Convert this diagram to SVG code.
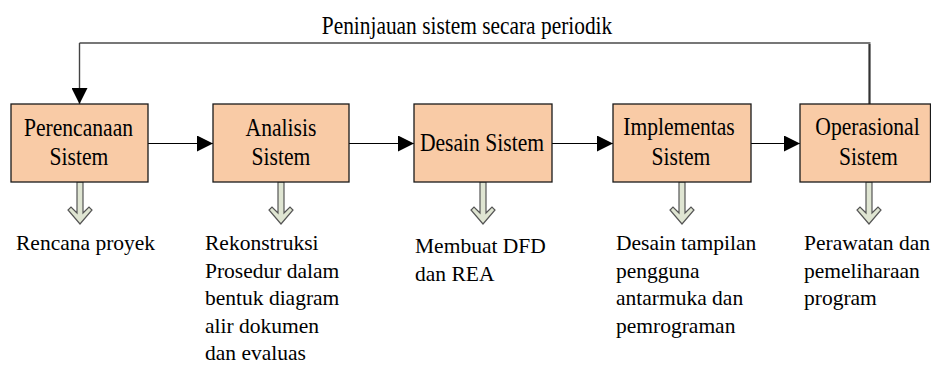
<svg xmlns="http://www.w3.org/2000/svg" width="931" height="370" viewBox="0 0 931 370">
<style>
.box{fill:#F9CBA6;stroke:#1a1a1a;stroke-width:1.3}
text{font-family:"Liberation Serif","Times New Roman",serif;fill:#000}
.bt{font-size:21.6px;text-anchor:middle}
.lt{font-size:21.5px}
.conn{stroke:#000;stroke-width:1.2;fill:none}
.dn{fill:#DFE5D2;stroke:#555;stroke-width:1.2;stroke-linejoin:miter}
</style>
<defs>
<marker id="ah" markerUnits="userSpaceOnUse" markerWidth="16" markerHeight="16" refX="16" refY="8" orient="auto">
<path d="M0,0 L16,8 L0,16 Z" fill="#000"/>
</marker>
<path id="blk" d="M-3,0 L-3,31 L-9,25 L-12,28 L0,42 L12,28 L9,25 L3,31 L3,0 Z"/>
</defs>
<g id="connectors">
<path class="conn" d="M148,143.5 L213,143.5" marker-end="url(#ah)"/>
<path class="conn" d="M349,143.5 L414,143.5" marker-end="url(#ah)"/>
<path class="conn" d="M552,143.5 L613,143.5" marker-end="url(#ah)"/>
<path class="conn" d="M751,143.5 L800,143.5" marker-end="url(#ah)"/>
<path d="M869.5,104 L869.5,43 L79.5,43" fill="none" stroke="#777" stroke-width="2"/>
<path d="M869.5,104 L869.5,44" fill="none" stroke="#333" stroke-width="1.8"/>
<path d="M79.5,43 L79.5,104" fill="none" stroke="#444" stroke-width="1.4" marker-end="url(#ah)"/>
<use href="#blk" class="dn" x="80" y="182"/>
<use href="#blk" class="dn" x="281" y="182"/>
<use href="#blk" class="dn" x="483" y="182"/>
<use href="#blk" class="dn" x="682" y="182"/>
<use href="#blk" class="dn" x="869" y="182"/>
</g>
<text font-size="21.4" transform="translate(467,34) scale(1,1.13)" text-anchor="middle">Peninjauan sistem secara periodik</text>
<g id="n1">
<rect class="box" x="11" y="104" width="137" height="78"/>
<text class="bt" transform="translate(78.5,136) scale(1,1.16)">Perencanaan</text>
<text class="bt" transform="translate(79,165) scale(1,1.16)">Sistem</text>
</g>
<g id="n2">
<rect class="box" x="213" y="104" width="136" height="78"/>
<text class="bt" transform="translate(281,136) scale(1,1.16)">Analisis</text>
<text class="bt" transform="translate(281,165) scale(1,1.16)">Sistem</text>
</g>
<g id="n3">
<rect class="box" x="414" y="104" width="138" height="78"/>
<text class="bt" transform="translate(482,151) scale(1,1.16)">Desain Sistem</text>
</g>
<g id="n4">
<rect class="box" x="613" y="104" width="138" height="78"/>
<text class="bt" transform="translate(679,135) scale(1,1.16)">Implementas</text>
<text class="bt" transform="translate(681,165) scale(1,1.16)">Sistem</text>
</g>
<g id="n5">
<rect class="box" x="800" y="104" width="130.5" height="78"/>
<text class="bt" transform="translate(867.5,135) scale(1,1.16)">Operasional</text>
<text class="bt" transform="translate(868.5,165) scale(1,1.16)">Sistem</text>
</g>
<g id="t1">
<text class="lt" x="16" y="250">Rencana proyek</text>
</g>
<g id="t2">
<text class="lt" x="205" y="250">Rekonstruksi</text>
<text class="lt" x="205" y="277.5">Prosedur dalam</text>
<text class="lt" x="205" y="305">bentuk diagram</text>
<text class="lt" x="205" y="332.5">alir dokumen</text>
<text class="lt" x="205" y="360">dan evaluas</text>
</g>
<g id="t3">
<text class="lt" x="415" y="253">Membuat DFD</text>
<text class="lt" x="415" y="281">dan REA</text>
</g>
<g id="t4">
<text class="lt" x="616" y="250">Desain tampilan</text>
<text class="lt" x="616" y="277.5">pengguna</text>
<text class="lt" x="616" y="305">antarmuka dan</text>
<text class="lt" x="616" y="332.5">pemrograman</text>
</g>
<g id="t5">
<text class="lt" x="804" y="250">Perawatan dan</text>
<text class="lt" x="804" y="277.5">pemeliharaan</text>
<text class="lt" x="804" y="305">program</text>
</g>
</svg>
